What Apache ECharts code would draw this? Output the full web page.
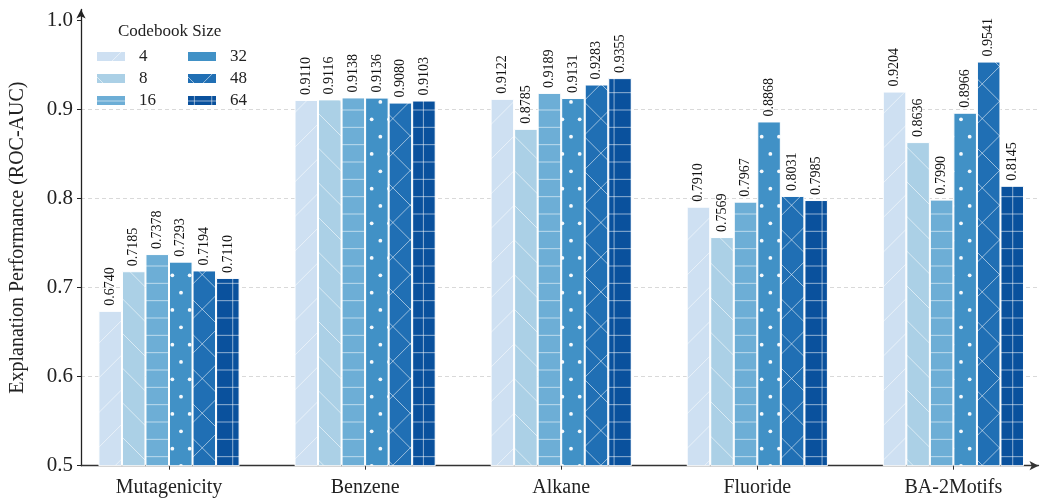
<!DOCTYPE html>
<html>
<head>
<meta charset="utf-8">
<script src="https://cdn.jsdelivr.net/npm/echarts@6/dist/echarts.min.js"></script>
<style>
  html, body { margin: 0; padding: 0; background: #ffffff; }
  #chart { width: 1045px; height: 500px; }
</style>
</head>
<body>
<div id="chart"></div>
<script>
// ---- data ----
const categories = ['Mutagenicity', 'Benzene', 'Alkane', 'Fluoride', 'BA-2Motifs'];
const codebookSizes = ['4', '8', '16', '32', '48', '64'];
const values4  = [0.6740, 0.9110, 0.9122, 0.7910, 0.9204];
const values8  = [0.7185, 0.9116, 0.8785, 0.7569, 0.8636];
const values16 = [0.7378, 0.9138, 0.9189, 0.7967, 0.7990];
const values32 = [0.7293, 0.9136, 0.9131, 0.8868, 0.8966];
const values48 = [0.7194, 0.9080, 0.9283, 0.8031, 0.9541];
const values64 = [0.7110, 0.9103, 0.9355, 0.7985, 0.8145];
const yTicks = [0.5, 0.6, 0.7, 0.8, 0.9, 1.0];
const xTicks = [0, 1, 2, 3, 4];

// ---- styles ----
const seriesValues = [values4, values8, values16, values32, values48, values64];
const colors = ['#cee0f2', '#abd0e6', '#6daed6', '#4191c6', '#206fb4', '#0a519d'];
const hatches = ['/', '\\', '-', '.', 'x', '+'];
const FONT = '"Liberation Serif", "Times New Roman", serif';

function makeHatch(bg, kind) {
  const T = 104;          // tile: 6 hatch periods
  const s = T / 6;        // 17.33 px line spacing
  const d = 2 * s;        // diagonal / dot-row period
  const c = document.createElement('canvas');
  c.width = T; c.height = T;
  const ctx = c.getContext('2d');
  ctx.fillStyle = bg;
  ctx.fillRect(0, 0, T, T);
  ctx.strokeStyle = 'rgba(255,255,255,0.55)';
  ctx.lineWidth = 1;
  const line = (x1, y1, x2, y2) => { ctx.beginPath(); ctx.moveTo(x1, y1); ctx.lineTo(x2, y2); ctx.stroke(); };
  const fwd = () => { // x + y = 26.1 + k*d
    for (let k = -1; k <= 7; k++) { const c0 = 26.1 + k * d; line(-10, c0 + 10, T + 10, c0 - T - 10); }
  };
  const bwd = () => { // y - x = 3.0 + k*d
    for (let k = -4; k <= 4; k++) { const c0 = 3.0 + k * d; line(-10, c0 - 10, T + 10, c0 + T + 10); }
  };
  if (kind === '/') fwd();
  if (kind === '\\') bwd();
  if (kind === 'x') { fwd(); bwd(); }
  if (kind === '-' || kind === '+') {
    for (let k = 0; k < 6; k++) line(0, 6.0 + k * s, T, 6.0 + k * s);
  }
  if (kind === '+') {
    for (let k = 0; k < 6; k++) line(7.4 + k * s, 0, 7.4 + k * s, T);
  }
  if (kind === '.') {
    ctx.fillStyle = 'rgba(255,255,255,0.95)';
    for (let r = -1; r <= 3; r++) {
      for (let k = -1; k <= 6; k++) {
        const pts = [[7.67 + k * s, 15.3 + r * d], [7.67 - s / 2 + k * s, 15.3 + s + r * d]];
        pts.forEach(([x, y]) => { ctx.beginPath(); ctx.arc(x, y, 1.9, 0, Math.PI * 2); ctx.fill(); });
      }
    }
  }
  return c;
}

const series = codebookSizes.map((name, i) => ({
  name: name,
  type: 'bar',
  barWidth: '12%',
  barGap: '0%',
  data: categories.map((c, j) => [j, seriesValues[i][j]]),
  itemStyle: {
    color: { image: makeHatch(colors[i], hatches[i]), repeat: 'repeat' },
    borderColor: '#ffffff',
    borderWidth: 1
  },
  label: {
    show: true,
    position: 'top',
    rotate: 90,
    align: 'left',
    verticalAlign: 'middle',
    distance: 5,
    fontFamily: FONT,
    fontSize: 14,
    color: '#111',
    formatter: p => p.value[1].toFixed(4)
  },
  emphasis: { disabled: true }
}));

const chart = echarts.init(document.getElementById('chart'), null, { renderer: 'canvas' });
const legendBase = {
  orient: 'vertical',
  top: 48,
  padding: 0,
  itemWidth: 30,
  itemHeight: 11,
  itemGap: 5,
  icon: 'rect',
  selectedMode: false,
  textStyle: { fontFamily: FONT, fontSize: 17, color: '#222', padding: [0, 0, 0, 8] }
};
chart.setOption({
  animation: false,
  backgroundColor: '#ffffff',
  title: {
    text: 'Codebook Size',
    left: 118,
    top: 23,
    padding: 0,
    textStyle: { fontFamily: FONT, fontSize: 17, fontWeight: 'normal', color: '#222' }
  },
  legend: [
    Object.assign({}, legendBase, { left: 95, data: codebookSizes.slice(0, 3) }),
    Object.assign({}, legendBase, { left: 186, data: codebookSizes.slice(3) })
  ],
  grid: { left: 81, right: 6.5, top: 9.5, bottom: 34.3, containLabel: false },
  xAxis: {
    type: 'value',
    min: -0.4488,
    max: 4.434,
    axisLine: {
      show: true,
      onZero: false,
      lineStyle: { color: '#333', width: 1.3 },
      symbol: ['none', 'arrow'],
      symbolSize: [7, 9]
    },
    axisTick: { show: true, length: 4, lineStyle: { color: '#333' }, customValues: xTicks },
    axisLabel: {
      customValues: xTicks,
      formatter: v => categories[Math.round(v)] || '',
      fontFamily: FONT, fontSize: 20, color: '#222', margin: 12
    },
    splitLine: { show: false }
  },
  yAxis: {
    type: 'value',
    min: 0.5,
    max: 1.0126,
    interval: 0.1,
    name: 'Explanation Performance (ROC-AUC)',
    nameLocation: 'middle',
    nameGap: 53,
    nameTextStyle: { fontFamily: FONT, fontSize: 20, color: '#222' },
    axisLine: {
      show: true,
      onZero: false,
      lineStyle: { color: '#222', width: 1.3 },
      symbol: ['none', 'arrow'],
      symbolSize: [7, 9]
    },
    axisTick: { show: true, length: 4, lineStyle: { color: '#222' }, customValues: yTicks },
    axisLabel: {
      customValues: yTicks,
      formatter: v => v.toFixed(1),
      fontFamily: FONT, fontSize: 21, color: '#222', margin: 8
    },
    splitLine: {
      show: true,
      showMinLine: false,
      showMaxLine: false,
      lineStyle: { color: '#d9d9d9', type: [4, 3], width: 1 }
    }
  },
  series: series
});
</script>
</body>
</html>
